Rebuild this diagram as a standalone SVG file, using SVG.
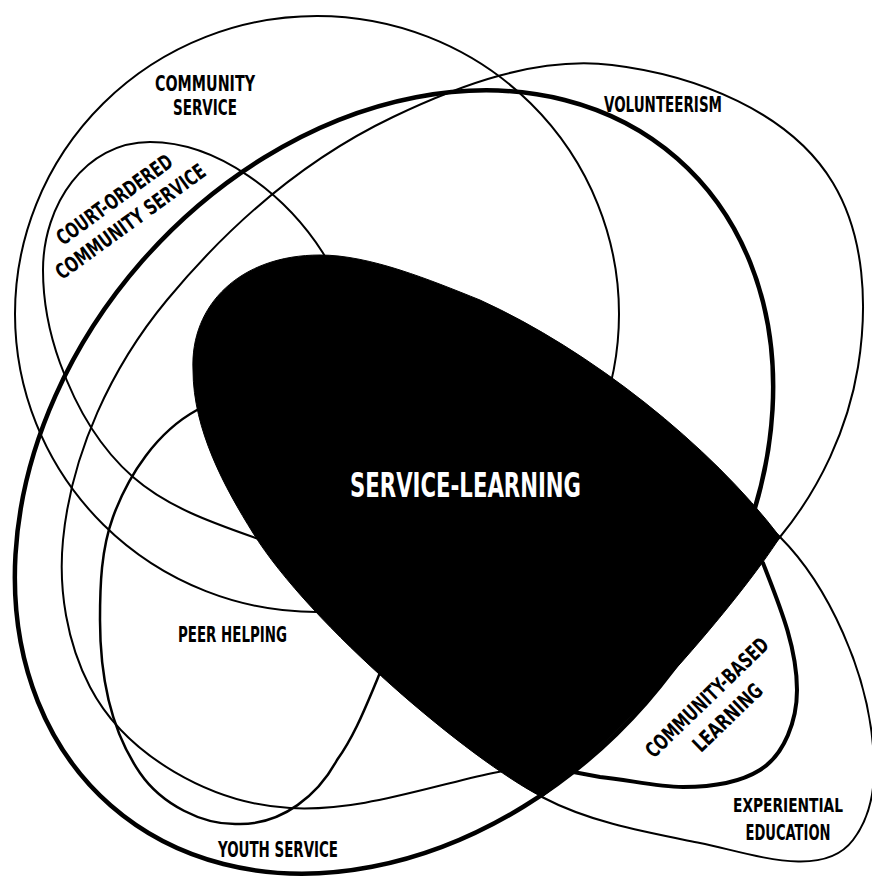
<svg xmlns="http://www.w3.org/2000/svg" width="872" height="876" viewBox="0 0 872 876">
<style>
.thin{fill:none;stroke:#000;stroke-width:2;stroke-linejoin:round;stroke-linecap:round}
.mid{fill:none;stroke:#000;stroke-width:2.5;stroke-linejoin:round;stroke-linecap:round}
.thick{fill:none;stroke:#000;stroke-width:4.5}
.cbl{fill:none;stroke:#000;stroke-width:4;stroke-linecap:round}
.lbl{font-family:'DejaVu Sans Condensed','DejaVu Sans','Liberation Sans',sans-serif;font-weight:bold;font-size:21px;fill:#000;text-anchor:middle;font-stretch:condensed}
.sm{font-size:20px}
.sl{font-size:33px;fill:#fff}
</style>
<rect width="872" height="876" fill="#fff"/>
<g id="community-service">
<ellipse class="thin" cx="317" cy="314" rx="302" ry="298"/>
<text class="lbl" x="205" y="91" textLength="100" lengthAdjust="spacingAndGlyphs">COMMUNITY</text>
<text class="lbl" x="205" y="115" textLength="64" lengthAdjust="spacingAndGlyphs">SERVICE</text>
</g>
<g id="court-ordered-community-service">
<path class="thin" d="M 275,545 L 253,537 C 210.8,522.2 166.6,506.5 133,477 C 99.1,447.3 75.3,405.4 60,363 C 49.3,333.4 43,301.5 43,270 C 43,205 85,142 150,142 C 218.5,142 286.1,195.3 323,253 L 330,265"/>
<text class="lbl" transform="translate(114,199) rotate(-36)" x="0" y="8" textLength="138" lengthAdjust="spacingAndGlyphs">COURT-ORDERED</text>
<text class="lbl" transform="translate(130,221) rotate(-36)" x="0" y="8" textLength="180" lengthAdjust="spacingAndGlyphs">COMMUNITY SERVICE</text>
</g>
<g id="volunteerism">
<path class="thin" d="M 520,768 L 493,773 C 425.5,787.3 359,811.8 290,808 C 212,803.7 126.1,756.2 90,687 C 66.9,642.8 58.2,589.6 63,540 C 71.4,453.2 111.4,367.1 167,300 C 228.8,225.4 305.5,158.7 393,117 C 460.7,84.7 537.5,56 612,65 C 694.9,75 790,111.4 833,183 C 864.9,236.1 867.9,305.9 858,367 C 848,428.5 819.6,489 780,537 L 750,570"/>
<text class="lbl" x="663" y="112" textLength="118" lengthAdjust="spacingAndGlyphs">VOLUNTEERISM</text>
</g>
<g id="youth-service">
<ellipse class="thick" cx="394" cy="482" rx="430" ry="335" transform="rotate(-48.8 394 482)"/>
<text class="lbl" x="278" y="857" textLength="120" lengthAdjust="spacingAndGlyphs">YOUTH SERVICE</text>
</g>
<g id="peer-helping">
<path class="mid" d="M 215,404 L 197,410 C 157.2,431.7 128.5,474.4 113,517 C 101.1,549.5 100,585.4 100,620 C 100,672.7 110.1,729.6 140,773 C 161.2,803.8 202.6,825.9 240,824 C 283,824 318,795 337,760 C 354.4,735.8 365.4,707.4 377,680 L 385,660"/>
<text class="lbl" x="232.5" y="642" textLength="109" lengthAdjust="spacingAndGlyphs">PEER HELPING</text>
</g>
<g id="experiential-education">
<path class="thin" d="M 540,788 L 542,797 C 590.6,822.6 646.1,832.2 700,843 C 750,853 822.3,880.7 853,840 C 867.7,820.5 874,794.4 874,770 C 874,723.2 862,675.8 843,633 C 827.5,598 807.1,564.1 780,537 L 766,525"/>
<text class="lbl sm" x="788" y="812" textLength="110" lengthAdjust="spacingAndGlyphs">EXPERIENTIAL</text>
<text class="lbl" x="788" y="840" textLength="85" lengthAdjust="spacingAndGlyphs">EDUCATION</text>
</g>
<g id="community-based-learning">
<path class="cbl" d="M 752,556 L 763,563 C 778.8,603.7 797,646.2 797,690 C 797,719.4 785,754.4 760,770 C 737.7,783.9 709.3,787 683,787 C 655.1,787 627.8,779.4 600,777 L 568,771"/>
<text class="lbl" transform="translate(706.5,697) rotate(-44)" x="0" y="8" textLength="162" lengthAdjust="spacingAndGlyphs">COMMUNITY-BASED</text>
<text class="lbl" transform="translate(727,717) rotate(-44)" x="0" y="8" textLength="88" lengthAdjust="spacingAndGlyphs">LEARNING</text>
</g>
<g id="service-learning">
<path fill="#000" stroke="#000" stroke-width="1" d="M 320,255 C 370,255 430,280 480,300 C 590,350 710,445 780,537 C 740,600 620,740 542,797 C 470,760 310,625 253,533 C 225,488 193,430 193,370 C 190,305 240,255 320,255 Z"/>
<text class="lbl sl" x="465.5" y="497" textLength="231" lengthAdjust="spacingAndGlyphs">SERVICE-LEARNING</text>
</g>
<g id="connectors"/>
</svg>
